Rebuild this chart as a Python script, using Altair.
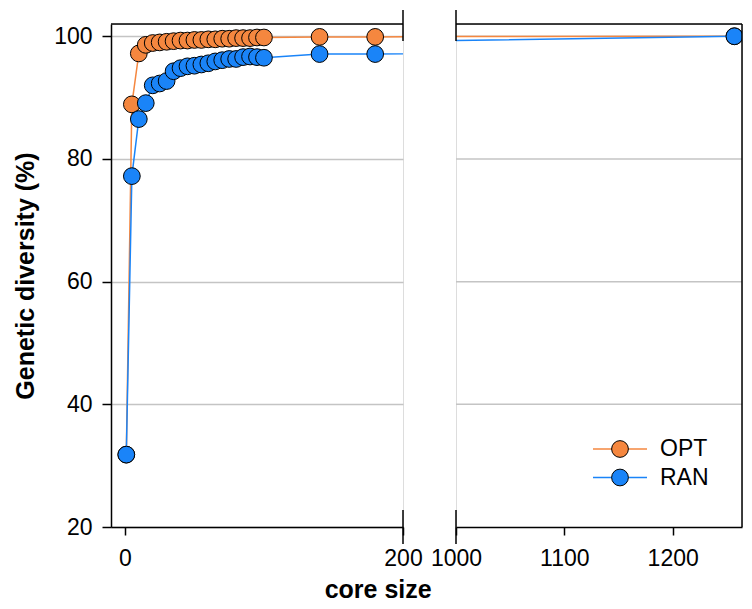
import altair as alt
import pandas as pd

# ---- data ----
core_size = [1, 5, 10, 15, 20, 25, 30, 35, 40, 45, 50, 55, 60, 65, 70, 75, 80, 85, 90, 95, 100, 140, 180, 1257]
opt_div = [31.8, 88.9, 97.2, 98.6, 98.9, 99.0, 99.1, 99.2, 99.3, 99.3, 99.4, 99.4, 99.5, 99.5, 99.6, 99.6,
           99.7, 99.7, 99.7, 99.8, 99.8, 99.9, 99.9, 100.0]
ran_div = [31.8, 77.2, 86.5, 89.1, 92.0, 92.3, 92.7, 94.3, 94.8, 95.1, 95.2, 95.4, 95.6, 95.9, 96.1, 96.3,
           96.3, 96.6, 96.7, 96.6, 96.5, 97.1, 97.1, 100.0]
series_names = ["OPT", "RAN"]
series_colors = ["#F5873F", "#1A84F8"]
y_ticks = [20, 40, 60, 80, 100]
grid_lines = [40, 60, 80, 100]
left_ticks = [0, 200]
right_ticks = [1000, 1100, 1200]
left_domain = [-10, 200]
right_domain = [1000, 1264]
y_domain = [20, 102]

n = len(core_size)
df = pd.DataFrame({
    "core": core_size * 2,
    "div": opt_div + ran_div,
    "series": [series_names[0]] * n + [series_names[1]] * n,
})
grid_df = pd.DataFrame({"div": grid_lines})
dummy = pd.DataFrame({"a": [0]})

FONT = "Liberation Sans"
H = 503
WL = 292
WR = 286
GAP = 53
GRID = "#C4C4C4"
LW = 1.5
LABEL_FS = 23
TITLE_FS = 25
PT = 280


def panel(xdomain, xticks, w, left):
    color = alt.Color("series:N", scale=alt.Scale(domain=series_names, range=series_colors), legend=None)
    x = alt.X("core:Q", scale=alt.Scale(domain=xdomain, nice=False, zero=False),
              axis=alt.Axis(values=xticks, title=None, grid=False, format="d", domainColor="black",
                            domainWidth=LW, tickColor="black", tickSize=8, tickWidth=LW,
                            labelFontSize=LABEL_FS, labelPadding=12, labelFont=FONT, labelColor="black",
                            labelFlush=False))
    yscale = alt.Scale(domain=y_domain, nice=False, zero=False)
    if left:
        yaxis = alt.Axis(values=y_ticks, title="Genetic diversity (%)", grid=True, gridColor=GRID, gridWidth=LW,
                         domainColor="black", domainWidth=LW, tickColor="black", tickSize=9, tickWidth=LW,
                         labelFontSize=LABEL_FS, labelPadding=10, labelFont=FONT, labelColor="black",
                         titleFontSize=TITLE_FS, titleFont=FONT, titleFontWeight="bold", titleColor="black",
                         titlePadding=15)
    else:
        yaxis = None
    y = alt.Y("div:Q", scale=yscale, axis=yaxis)

    layers = []
    if not left:
        layers.append(alt.Chart(grid_df).mark_rule(color=GRID, strokeWidth=LW)
                      .encode(y=alt.Y("div:Q", scale=yscale, axis=None)))
    for s in series_names:
        base = alt.Chart(df).transform_filter(alt.datum.series == s)
        layers.append(base.mark_line(clip=True, strokeWidth=LW).encode(x=x, y=y, color=color))
        layers.append(base.mark_circle(clip=True, size=PT, opacity=1, stroke="black", strokeWidth=1)
                      .encode(x=x, y=y, color=color))

    rule = alt.Chart(dummy).mark_rule(color="black", strokeWidth=LW)
    # top border
    layers.append(rule.encode(x=alt.value(0), x2=alt.value(w), y=alt.value(0)))
    bx = w if left else 0
    # axis-break marks
    layers.append(rule.encode(x=alt.value(bx), y=alt.value(-14), y2=alt.value(17)))
    layers.append(rule.encode(x=alt.value(bx), y=alt.value(H - 17), y2=alt.value(H + 17)))
    if not left:
        layers.append(rule.encode(x=alt.value(w), y=alt.value(0), y2=alt.value(H)))
        # legend
        for i, (s, c) in enumerate(zip(series_names, series_colors)):
            ly = 425 + i * 28.5
            leg = alt.Chart(pd.DataFrame({"series": [s]}))
            layers.append(leg.mark_rule(color=c, strokeWidth=LW)
                          .encode(x=alt.value(137), x2=alt.value(191), y=alt.value(ly)))
            layers.append(leg.mark_circle(size=PT, opacity=1, fill=c, stroke="black", strokeWidth=1)
                          .encode(x=alt.value(164), y=alt.value(ly)))
            layers.append(leg.mark_text(align="left", baseline="middle", fontSize=LABEL_FS, font=FONT,
                                        color="black")
                          .encode(x=alt.value(204), y=alt.value(ly), text="series:N"))
    return alt.layer(*layers).properties(width=w, height=H)


left_panel = panel(left_domain, left_ticks, WL, True)
right_panel = panel(right_domain, right_ticks, WR, False)

chart = alt.hconcat(left_panel, right_panel, spacing=GAP, bounds="flush").properties(
    title=alt.TitleParams("core size", orient="bottom", anchor="middle", fontSize=TITLE_FS, font=FONT,
                          fontWeight="bold", color="black", offset=7),
    padding={"left": 5, "top": 0, "right": 0, "bottom": 0},
).configure_view(stroke=None).configure(font=FONT)

chart.save("out.html", embed_options={"renderer": "svg", "actions": False})
